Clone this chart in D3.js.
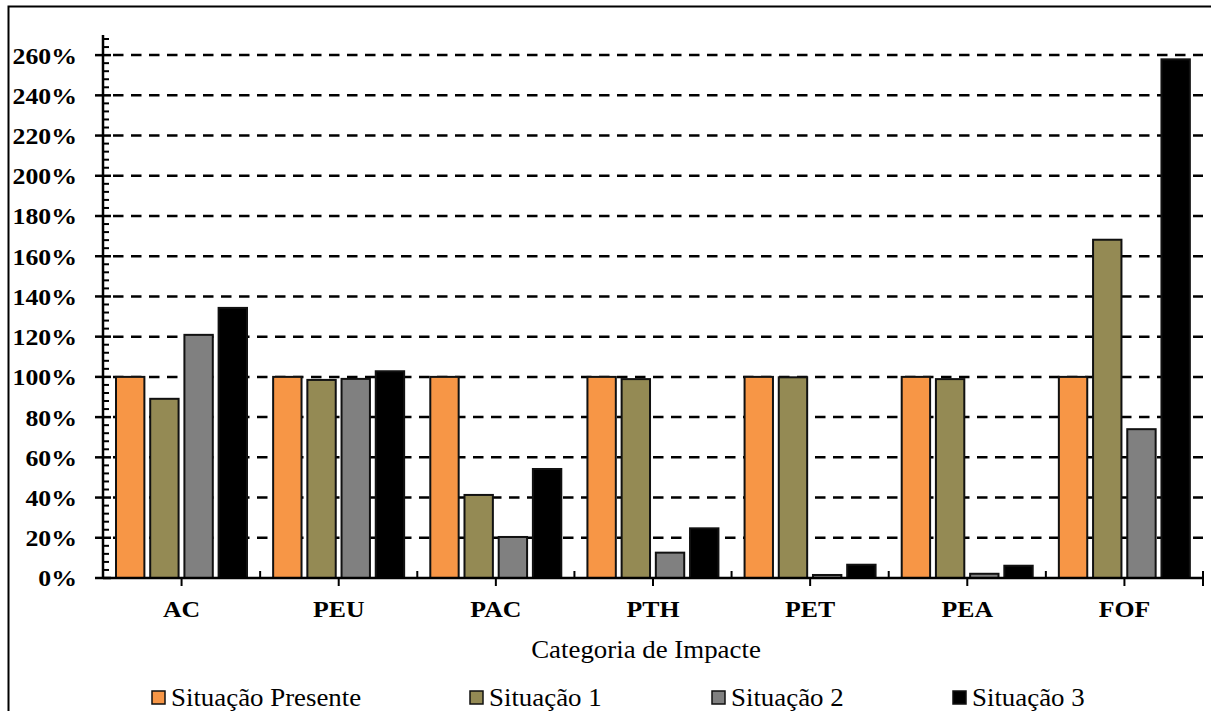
<!DOCTYPE html>
<html>
<head>
<meta charset="utf-8">
<script src="https://cdn.jsdelivr.net/npm/d3@7"></script>
<style>
  html, body { margin: 0; padding: 0; background: #fff; }
  svg { display: block; }
</style>
</head>
<body>
<svg id="chart" width="1211" height="711"></svg>
<script>
// Impact categories and relative scores (% of the present situation)
const categories = ["AC", "PEU", "PAC", "PTH", "PET", "PEA", "FOF"];
const seriesNames = ["Situação Presente", "Situação 1", "Situação 2", "Situação 3"];
const situacaoPresente = [100, 100, 100, 100, 100, 100, 100];
const situacao1 = [89.1, 98.5, 41.3, 98.9, 99.8, 98.9, 168.2];
const situacao2 = [120.9, 99.0, 20.4, 12.6, 1.5, 2.1, 74.0];
const situacao3 = [134.3, 102.8, 54.2, 24.7, 6.6, 6.1, 257.9];
const yTickValues = [0, 20, 40, 60, 80, 100, 120, 140, 160, 180, 200, 220, 240, 260];
const seriesColors = ["#F79646", "#948A54", "#808080", "#000000"];

const FONT = "'Liberation Serif', Tinos, 'Times New Roman', Times, 'DejaVu Serif', serif";
const TEXT_STRETCH = 1.075; // slightly wide lettering

const seriesValues = [situacaoPresente, situacao1, situacao2, situacao3];
const rows = categories.map((c, i) => ({
  cat: c,
  vals: seriesNames.map((s, k) => ({ series: s, k, v: seriesValues[k][i] }))
}));

const svg = d3.select("#chart")
  .attr("font-family", FONT)
  .style("font-family", FONT);

// places text at (x, y) with a small horizontal stretch
function placeText(sel, fx, fy) {
  return sel
    .attr("x", 0).attr("y", 0)
    .attr("transform", (d, i) => `translate(${fx(d, i)},${fy(d, i)}) scale(${TEXT_STRETCH},1)`);
}

// outer chart frame (continues past the right and bottom edges)
svg.append("rect")
  .attr("x", 8.5).attr("y", 6.5)
  .attr("width", 1300).attr("height", 800)
  .attr("fill", "none").attr("stroke", "#000").attr("stroke-width", 2);

const plot = { left: 103, right: 1203, bottom: 578 };

const y = d3.scaleLinear().domain([0, 270]).range([plot.bottom, 35]);
const x0 = d3.scaleBand().domain(categories).range([plot.left, plot.right]).padding(0);
const x1 = d3.scaleBand().domain(seriesNames).range([13, 144]).paddingInner(0.17);

// dashed horizontal gridlines
svg.append("g")
  .selectAll("line")
  .data(yTickValues.filter(v => v > 0))
  .join("line")
  .attr("x1", plot.left + 10).attr("x2", plot.right)
  .attr("y1", d => y(d)).attr("y2", d => y(d))
  .attr("stroke", "#000").attr("stroke-width", 2.5)
  .attr("stroke-dasharray", "10.5,7.5");

// bars
const groups = svg.append("g")
  .selectAll("g")
  .data(rows)
  .join("g")
  .attr("transform", d => `translate(${x0(d.cat)},0)`);

groups.selectAll("rect")
  .data(d => d.vals)
  .join("rect")
  .attr("x", d => x1(d.series))
  .attr("width", x1.bandwidth())
  .attr("y", d => y(d.v))
  .attr("height", d => y(0) - y(d.v))
  .attr("fill", d => seriesColors[d.k])
  .attr("stroke", "#111")
  .attr("stroke-width", 2);

// y axis: major ticks crossing the line, minor ticks on the inside
const yAxisG = svg.append("g");
yAxisG.append("line")
  .attr("x1", plot.left).attr("x2", plot.left)
  .attr("y1", y(270)).attr("y2", plot.bottom)
  .attr("stroke", "#000").attr("stroke-width", 2.5);

const minorTicks = d3.range(0, 270.01, 4).filter(v => v % 20 !== 0);
yAxisG.selectAll("line.minor")
  .data(minorTicks)
  .join("line")
  .attr("class", "minor")
  .attr("x1", plot.left).attr("x2", plot.left + 6)
  .attr("y1", d => y(d)).attr("y2", d => y(d))
  .attr("stroke", "#000").attr("stroke-width", 2);

yAxisG.selectAll("line.major")
  .data(yTickValues)
  .join("line")
  .attr("class", "major")
  .attr("x1", plot.left - 8).attr("x2", plot.left + 8)
  .attr("y1", d => y(d)).attr("y2", d => y(d))
  .attr("stroke", "#000").attr("stroke-width", 2.5);

yAxisG.selectAll("text")
  .data(yTickValues)
  .join("text")
  .call(placeText, () => 77, d => y(d))
  .attr("dy", "0.35em")
  .attr("text-anchor", "end")
  .attr("font-weight", "bold")
  .attr("font-size", 24)
  .text(d => d + "%");

// x axis
const xAxisG = svg.append("g");
xAxisG.append("line")
  .attr("x1", plot.left).attr("x2", plot.right)
  .attr("y1", plot.bottom).attr("y2", plot.bottom)
  .attr("stroke", "#000").attr("stroke-width", 2.5);

// ticks under category centres
xAxisG.selectAll("line.center")
  .data(categories)
  .join("line")
  .attr("class", "center")
  .attr("x1", d => x0(d) + x0.bandwidth() / 2)
  .attr("x2", d => x0(d) + x0.bandwidth() / 2)
  .attr("y1", plot.bottom).attr("y2", plot.bottom + 8)
  .attr("stroke", "#000").attr("stroke-width", 2);

// ticks at category boundaries
xAxisG.selectAll("line.bound")
  .data(categories.slice(1))
  .join("line")
  .attr("class", "bound")
  .attr("x1", d => x0(d)).attr("x2", d => x0(d))
  .attr("y1", plot.bottom - 7).attr("y2", plot.bottom)
  .attr("stroke", "#000").attr("stroke-width", 2);

xAxisG.append("line")
  .attr("x1", plot.right).attr("x2", plot.right)
  .attr("y1", plot.bottom - 7).attr("y2", plot.bottom + 8)
  .attr("stroke", "#000").attr("stroke-width", 2);

xAxisG.selectAll("text")
  .data(categories)
  .join("text")
  .call(placeText, d => x0(d) + x0.bandwidth() / 2, () => 617)
  .attr("text-anchor", "middle")
  .attr("font-weight", "bold")
  .attr("font-size", 24)
  .text(d => d);

// axis title
svg.append("text")
  .datum("Categoria de Impacte")
  .call(placeText, () => 646, () => 658)
  .attr("text-anchor", "middle")
  .attr("font-size", 25)
  .text(d => d);

// legend
const legendX = [152, 470, 712, 953];
const legend = svg.append("g")
  .selectAll("g")
  .data(seriesNames)
  .join("g")
  .attr("transform", (d, i) => `translate(${legendX[i]},0)`);

legend.append("rect")
  .attr("x", 0).attr("y", 691)
  .attr("width", 13).attr("height", 13)
  .attr("fill", (d, i) => seriesColors[i])
  .attr("stroke", "#111").attr("stroke-width", 1.5);

legend.append("text")
  .call(placeText, () => 19, () => 706)
  .attr("font-size", 25)
  .text(d => d);
</script>
</body>
</html>
